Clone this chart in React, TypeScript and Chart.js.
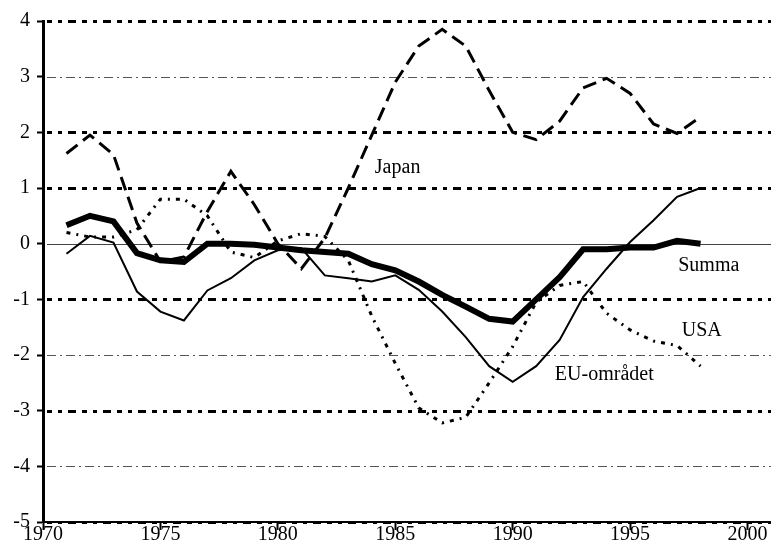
import React, { useEffect, useRef } from "react";
import { Chart, registerables } from "chart.js";

Chart.register(...registerables);

const years = [1971, 1972, 1973, 1974, 1975, 1976, 1977, 1978, 1979, 1980, 1981, 1982, 1983, 1984, 1985, 1986, 1987, 1988, 1989, 1990, 1991, 1992, 1993, 1994, 1995, 1996, 1997, 1998];
const summa = [0.33, 0.5, 0.4, -0.17, -0.3, -0.33, 0.0, 0.0, -0.02, -0.07, -0.12, -0.15, -0.18, -0.37, -0.48, -0.68, -0.92, -1.13, -1.35, -1.4, -1.0, -0.6, -0.1, -0.1, -0.07, -0.07, 0.05, 0.0];
const euOmradet = [-0.18, 0.14, 0.02, -0.86, -1.22, -1.38, -0.84, -0.62, -0.3, -0.12, -0.08, -0.57, -0.62, -0.68, -0.57, -0.83, -1.22, -1.68, -2.2, -2.48, -2.2, -1.73, -0.96, -0.45, 0.03, 0.42, 0.84, 1.0];
const japan = [1.62, 1.95, 1.6, 0.37, -0.32, -0.24, 0.58, 1.3, 0.7, 0.0, -0.45, 0.1, 1.0, 1.95, 2.9, 3.55, 3.85, 3.55, 2.75, 2.0, 1.87, 2.2, 2.8, 2.97, 2.7, 2.15, 1.98, 2.28];
const usa = [0.2, 0.12, 0.12, 0.25, 0.8, 0.8, 0.5, -0.15, -0.25, 0.05, 0.18, 0.13, -0.3, -1.3, -2.15, -2.95, -3.22, -3.12, -2.5, -1.85, -1.05, -0.75, -0.68, -1.25, -1.55, -1.75, -1.83, -2.2];

const xTicks = [1970, 1975, 1980, 1985, 1990, 1995, 2000];
const heavyGrid = [4, 2, 1, -1, -3, -5];
const lightGrid = [3, -2, -4];
const zeroGrid = [0];

const seriesLabels = ["Summa", "EU-området", "Japan", "USA"];

const FONT = "'Liberation Serif', 'Times New Roman', serif";

const toPoints = (vals: number[]) => years.map((y, i) => ({ x: y, y: vals[i] }));

const gridPlugin = {
  id: "customGrid",
  beforeDatasetsDraw(chart: any) {
    const { ctx, chartArea, scales } = chart;
    const ys = scales.y;
    const drawLine = (v: number, width: number, color: string, dash: number[]) => {
      const py = Math.round(ys.getPixelForValue(v)) + (width % 2 === 1 ? 0.5 : 0);
      ctx.save();
      ctx.strokeStyle = color;
      ctx.lineWidth = width;
      ctx.setLineDash(dash);
      ctx.beginPath();
      ctx.moveTo(chartArea.left + 4, py);
      ctx.lineTo(chartArea.right, py);
      ctx.stroke();
      ctx.restore();
    };
    lightGrid.forEach((v) => drawLine(v, 1, "#555", [9, 4, 2, 4]));
    zeroGrid.forEach((v) => drawLine(v, 1, "#444", []));
    heavyGrid.forEach((v) => drawLine(v, 3, "#000", [5, 6, 4, 6, 8, 6]));
  },
};

const labelPlugin = {
  id: "seriesLabels",
  afterDatasetsDraw(chart: any, _args: any, opts: any) {
    const { ctx, scales } = chart;
    ctx.save();
    ctx.fillStyle = "#000";
    ctx.font = `20px ${FONT}`;
    ctx.textAlign = "center";
    ctx.textBaseline = "middle";
    (opts.items || []).forEach((it: any) => {
      ctx.fillText(it.text, scales.x.getPixelForValue(it.x), scales.y.getPixelForValue(it.y));
    });
    ctx.restore();
  },
};

export default function App() {
  const ref = useRef<HTMLCanvasElement | null>(null);
  useEffect(() => {
    if (!ref.current) return;
    const chart = new Chart(ref.current, {
      type: "line",
      data: {
        datasets: [
          {
            label: seriesLabels[3],
            data: toPoints(usa),
            borderColor: "#000",
            borderWidth: 3,
            borderDash: [4, 6, 2, 6],
            pointRadius: 0,
            tension: 0,
          },
          {
            label: seriesLabels[2],
            data: toPoints(japan),
            borderColor: "#000",
            borderWidth: 3,
            borderDash: [14, 7],
            pointRadius: 0,
            tension: 0,
          },
          {
            label: seriesLabels[1],
            data: toPoints(euOmradet),
            borderColor: "#000",
            borderWidth: 2,
            pointRadius: 0,
            tension: 0,
          },
          {
            label: seriesLabels[0],
            data: toPoints(summa),
            borderColor: "#000",
            borderWidth: 6,
            pointRadius: 0,
            tension: 0,
          },
        ],
      },
      options: {
        animation: false,
        responsive: false,
        maintainAspectRatio: false,
        layout: { padding: { top: 21, right: 0, left: 0, bottom: 0 } },
        plugins: {
          legend: { display: false },
          tooltip: { enabled: false },
          seriesLabels: {
            items: [
              { text: seriesLabels[2], x: 1985.1, y: 1.37 },
              { text: seriesLabels[0], x: 1998.35, y: -0.39 },
              { text: seriesLabels[3], x: 1998.05, y: -1.57 },
              { text: seriesLabels[1], x: 1993.9, y: -2.36 },
            ],
          },
        } as any,
        scales: {
          x: {
            type: "linear",
            min: 1970,
            max: 2001,
            afterBuildTicks: (scale: any) => {
              scale.ticks = xTicks.map((v) => ({ value: v }));
            },
            afterFit: (scale: any) => {
              scale.height = 30;
            },
            ticks: {
              stepSize: 5,
              color: "#000",
              font: { family: FONT, size: 20 },
              padding: -7,
              maxRotation: 0,
              autoSkip: false,
              callback: (v: any) => String(v),
            },
            grid: {
              drawOnChartArea: false,
              drawTicks: true,
              tickLength: 8,
              tickWidth: 2,
              tickColor: "#000",
            },
            border: { display: true, color: "#000", width: 2 },
          },
          y: {
            type: "linear",
            min: -5,
            max: 4,
            afterFit: (scale: any) => {
              scale.width = 43;
            },
            ticks: {
              stepSize: 1,
              color: "#000",
              font: { family: FONT, size: 20 },
              padding: 7,
            },
            grid: {
              drawOnChartArea: false,
              drawTicks: true,
              tickLength: 6,
              tickWidth: 2,
              tickColor: "#000",
            },
            border: { display: true, color: "#000", width: 3 },
          },
        },
      },
      plugins: [gridPlugin, labelPlugin],
    });
    return () => chart.destroy();
  }, []);
  return (
    <div style={{ position: "fixed", left: 0, top: 0, width: 771, height: 552, background: "#fff" }}>
      <canvas ref={ref} width={771} height={552} style={{ display: "block" }} />
    </div>
  );
}
